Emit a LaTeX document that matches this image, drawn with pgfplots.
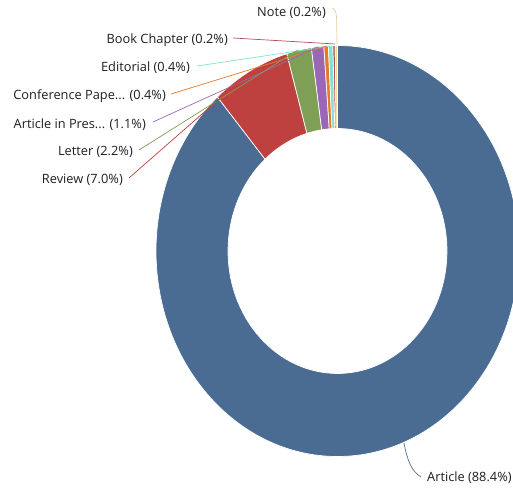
\documentclass[border=0pt]{standalone}
\usepackage{pgfplots}
\pgfplotsset{compat=1.18}
\usepackage{pgfplotstable}
\usetikzlibrary{calc}
\usepackage{fontspec}
\setmainfont{Open Sans}
\definecolor{cArt}{HTML}{4A6C93}
\definecolor{cRev}{HTML}{BF413F}
\definecolor{cLet}{HTML}{7E9F55}
\definecolor{cAip}{HTML}{9A67B6}
\definecolor{cConf}{HTML}{E8792B}
\definecolor{cEdit}{HTML}{80E3CF}
\definecolor{cBook}{HTML}{B24E58}
\definecolor{cNote}{HTML}{F0D98A}
\definecolor{txt}{HTML}{1E1E1E}
\tikzset{lbl/.style={font=\fontsize{12.8}{15}\selectfont, text=txt, inner sep=0pt}}

\pgfplotstableread{
label value col
Article 88.4 cArt
Review 7.0 cRev
Letter 2.2 cLet
InPress 1.1 cAip
Conference 0.4 cConf
Editorial 0.4 cEdit
BookChapter 0.2 cBook
Note 0.2 cNote
}\slices

\def\cx{337.5}\def\cy{-251}
\def\Rx{181.5pt}\def\Ry{205.5pt}
\def\rx{109.5pt}\def\ry{122.5pt}
\def\tot{99.9}

\begin{document}
\begin{tikzpicture}
\begin{axis}[
  scale only axis, width=513pt, height=490pt,
  xmin=0, xmax=513, ymin=-490, ymax=0,
  axis lines=box, axis line style={draw=none}, ticks=none,
  clip=true,
]
\def\cum{0}
\pgfplotsforeachungrouped \i in {0,...,7}{%
  \pgfplotstablegetelem{\i}{value}\of\slices \let\v=\pgfplotsretval
  \pgfplotstablegetelem{\i}{col}\of\slices \let\c=\pgfplotsretval
  \pgfmathsetmacro\aS{90-\cum/\tot*360}%
  \pgfmathsetmacro\cum{\cum+\v}%
  \pgfmathsetmacro\aE{90-\cum/\tot*360}%
  \edef\temp{\noexpand\fill[\c, draw=white, line width=0.7pt]
    (axis cs:\cx,\cy) ++(\aS:\Rx\space and \Ry)
    arc[start angle=\aS, end angle=\aE, x radius=\Rx, y radius=\Ry]
    -- ($(axis cs:\cx,\cy)+(\aE:\rx\space and \ry)$)
    arc[start angle=\aE, end angle=\aS, x radius=\rx, y radius=\ry] -- cycle;}%
  \temp
}
% connectors
\draw[cNote!85!black!70, line width=0.7pt] (axis cs:332,-8) .. controls (axis cs:336,-9) and (axis cs:336.5,-14) .. (axis cs:336.7,-22) -- (axis cs:337,-44);
\draw[cBook, line width=0.7pt] (axis cs:233,-38) -- (axis cs:335,-44);
\draw[cEdit, line width=0.7pt] (axis cs:197,-66) -- (axis cs:331,-46);
\draw[cConf, line width=0.7pt] (axis cs:171,-94) -- (axis cs:327,-46);
\draw[cAip, line width=0.7pt] (axis cs:153,-122) -- (axis cs:318,-47);
\draw[cLet, line width=0.7pt] (axis cs:139,-150) -- (axis cs:298,-50);
\draw[cRev, line width=0.7pt] (axis cs:129,-178) -- (axis cs:250,-72);
\draw[cArt!80!gray, line width=0.7pt] (axis cs:404,-443) .. controls (axis cs:407,-460) and (axis cs:412,-472) .. (axis cs:421,-477);
% labels
\node[lbl, anchor=east] at (axis cs:326,-13) {Note (0.2\%)};
\node[lbl, anchor=east] at (axis cs:228,-40.5) {Book Chapter (0.2\%)};
\node[lbl, anchor=east] at (axis cs:190,-68) {Editorial (0.4\%)};
\node[lbl, anchor=east] at (axis cs:166,-96.5) {Conference Pape... (0.4\%)};
\node[lbl, anchor=east] at (axis cs:146,-124.3) {Article in Pres... (1.1\%)};
\node[lbl, anchor=east] at (axis cs:133,-152) {Letter (2.2\%)};
\node[lbl, anchor=east] at (axis cs:123,-180) {Review (7.0\%)};
\node[lbl, anchor=west] at (axis cs:427,-478) {Article (88.4\%)};
\end{axis}
\end{tikzpicture}
\end{document}
